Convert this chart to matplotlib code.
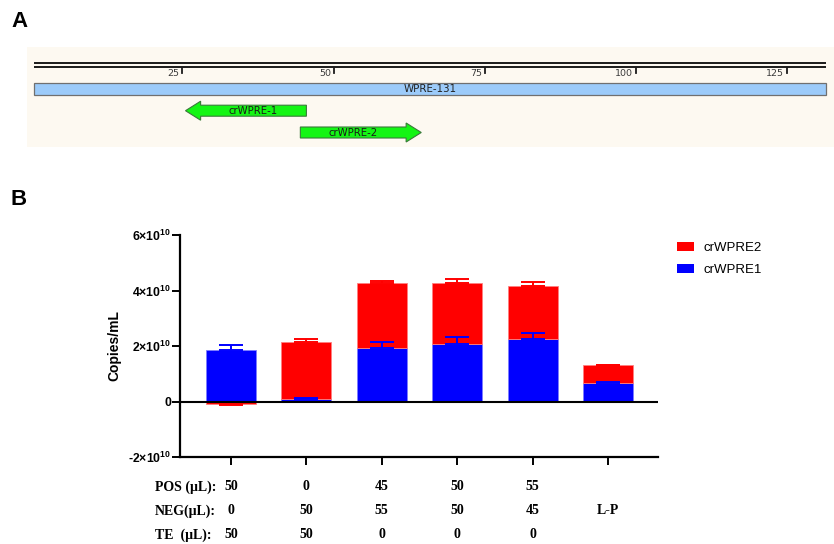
import numpy as np
import matplotlib
matplotlib.use("Agg")
import matplotlib.pyplot as plt
from matplotlib.patches import FancyArrow, Rectangle, Patch
from matplotlib.transforms import blended_transform_factory

plt.rcParams["font.family"] = ["Liberation Sans", "DejaVu Sans"]
plt.rcParams["mathtext.fontset"] = "custom"
plt.rcParams["mathtext.rm"] = "Liberation Sans:bold"
plt.rcParams["mathtext.bf"] = "Liberation Sans:bold"
plt.rcParams["mathtext.default"] = "bf"

# --- panel A: WPRE amplicon map (positions in nt) ---
ref_name = "WPRE-131"
ref_span = (1, 131)
map_ticks = [25, 50, 75, 100, 125]
guide_names = ["crWPRE-1", "crWPRE-2"]
guide_spans = [(26, 45), (45, 64)]
guide_strand = [-1, 1]

# --- panel B: quantification (copies/mL, x1e10) ---
conditions = ["c1", "c2", "c3", "c4", "c5", "L-P"]
crwpre1 = [1.87, 0.10, 1.91, 2.09, 2.26, 0.67]
crwpre1_sd = [0.16, 0.02, 0.23, 0.24, 0.20, 0.05]
crwpre2 = [-0.08, 2.05, 2.37, 2.19, 1.90, 0.63]
crwpre2_sd = [0.05, 0.12, 0.05, 0.13, 0.15, 0.02]
y_ticks = [-2, 0, 2, 4, 6]

row_labels = ["POS (\u03bcL):", "NEG(\u03bcL):", "TE  (\u03bcL):"]
pos_ul = ["50", "0", "45", "50", "55", ""]
neg_ul = ["0", "50", "55", "50", "45", "L-P"]
te_ul = ["50", "50", "0", "0", "0", ""]

W, H = 834, 544
fig = plt.figure(figsize=(W / 100, H / 100), dpi=100)
fig.patch.set_facecolor("white")


def fx(px):
    return px / W


def fy(py):
    return 1 - py / H


# ---------------- panel A ----------------
ax_map = fig.add_axes([fx(27), fy(147), fx(807), 100 / H])
ax_map.set_facecolor("#fdf9f1")
ax_map.set_xlim(-0.72, 132.78)
ax_map.set_ylim(147, 47)
for s in ax_map.spines.values():
    s.set_visible(False)
ax_map.set_xticks([])
ax_map.set_yticks([])

x0, x1 = ref_span[0] - 0.5, ref_span[1] + 0.5
for yy in (62.7, 66.7):
    ax_map.plot([x0, x1], [yy, yy], color="#1a1a1a", lw=1.4, solid_capstyle="butt")
for t in map_ticks:
    ax_map.plot([t, t], [67.5, 72.5], color="#1a1a1a", lw=1.3)
    ax_map.text(t - 0.45, 73, str(t), ha="right", va="center",
                fontsize=6.8, color="#3a3a3a", family="DejaVu Sans")

ax_map.add_patch(Rectangle((x0, 83.3), x1 - x0, 11.7, facecolor="#9ccbfa",
                           edgecolor="#707070", lw=0.9))
ax_map.text((x0 + x1) / 2, 89.3, ref_name, ha="center", va="center",
            fontsize=7.4, color="#222222", family="DejaVu Sans")

arrow_rows = [110.7, 132.5]
head_len = 2.5
for name, (a, b), strand, yc in zip(guide_names, guide_spans, guide_strand, arrow_rows):
    start, end = a - 0.5, b + 0.5
    if strand < 0:
        tail, dx = end, -(end - start)
        body_mid = (start + head_len + end) / 2
    else:
        tail, dx = start, end - start
        body_mid = (start + end - head_len) / 2
    ax_map.add_patch(FancyArrow(tail, yc, dx, 0, width=11, head_width=19,
                                head_length=head_len, length_includes_head=True,
                                facecolor="#14f514", edgecolor="#3a7a3a", lw=0.8))
    ax_map.text(body_mid, yc, name, ha="center", va="center",
                fontsize=7.3, color="#1a1a1a", family="DejaVu Sans")

fig.text(fx(11), fy(21.5), "A", fontsize=16, fontweight="bold", va="center")
fig.text(fx(11), fy(199.5), "B", fontsize=16, fontweight="bold", va="center")

# ---------------- panel B ----------------
ax = fig.add_axes([fx(180), fy(457), fx(658 - 180), (457 - 235) / H])
x = np.arange(len(conditions))
blue = np.array(crwpre1)
red = np.array(crwpre2)
red_bottom = np.where(red >= 0, blue, 0)

bw = 0.663
ax.bar(x, blue, bw, color="#0000ff", edgecolor="#7d7dff", lw=0.6,
       label="crWPRE1", zorder=2)
ax.bar(x, red, bw, bottom=red_bottom, color="#ff0000", edgecolor="#ff8080",
       lw=0.6, label="crWPRE2", zorder=2)

# one-sided error bars (SD) pointing away from zero
blue_err = [np.zeros_like(blue), np.array(crwpre1_sd)]
ax.errorbar(x, blue, yerr=blue_err, fmt="none", ecolor="#0000ff",
            elinewidth=1.4, capsize=8.7, capthick=1.4, zorder=3)
red_top = red_bottom + red
red_sd = np.array(crwpre2_sd)
red_err = [np.where(red < 0, red_sd, 0), np.where(red >= 0, red_sd, 0)]
ax.errorbar(x, red_top, yerr=red_err, fmt="none", ecolor="#ff0000",
            elinewidth=1.4, capsize=8.7, capthick=1.4, zorder=3)

ax.axhline(0, color="black", lw=1.5, zorder=4)
ax.set_xlim(-0.676, 5.663)
ax.set_ylim(-2, 6)
ax.set_yticks(y_ticks)
ax.set_yticklabels([("0" if v == 0 else f"{v}\u00d710$^{{10}}$") for v in y_ticks],
                   fontsize=8.8, fontweight="bold")
ax.set_xticks(x)
ax.set_xticklabels([])
for side in ("top", "right"):
    ax.spines[side].set_visible(False)
for side in ("left", "bottom"):
    ax.spines[side].set_linewidth(1.6)
ax.tick_params(axis="both", direction="out", length=5.5, width=1.4, pad=1)
ax.set_ylabel("Copies/mL", fontsize=10, fontweight="bold", labelpad=5)
ax.set_facecolor("none")

handles = [Patch(facecolor="#ff0000"), Patch(facecolor="#0000ff")]
ax.legend(handles, ["crWPRE2", "crWPRE1"], loc="upper left",
          bbox_to_anchor=(fx(672), fy(237)), bbox_transform=fig.transFigure,
          frameon=False, fontsize=9.5, handlelength=1.3, handleheight=0.65,
          handletextpad=0.7, labelspacing=0.75, borderaxespad=0)

# condition table under the x axis
trans = blended_transform_factory(ax.transData, fig.transFigure)
rows_y = [487, 511, 535]
for label, vals, ry in zip(row_labels, [pos_ul, neg_ul, te_ul], rows_y):
    fig.text(fx(155), fy(ry), label, ha="left", va="center",
             family="Liberation Serif", fontweight="bold", fontsize=10)
    for xi, v in zip(x, vals):
        ax.text(xi, fy(ry), v, transform=trans, ha="center", va="center",
                family="Liberation Serif", fontweight="bold", fontsize=10)

fig.savefig("out.png", dpi=100)
